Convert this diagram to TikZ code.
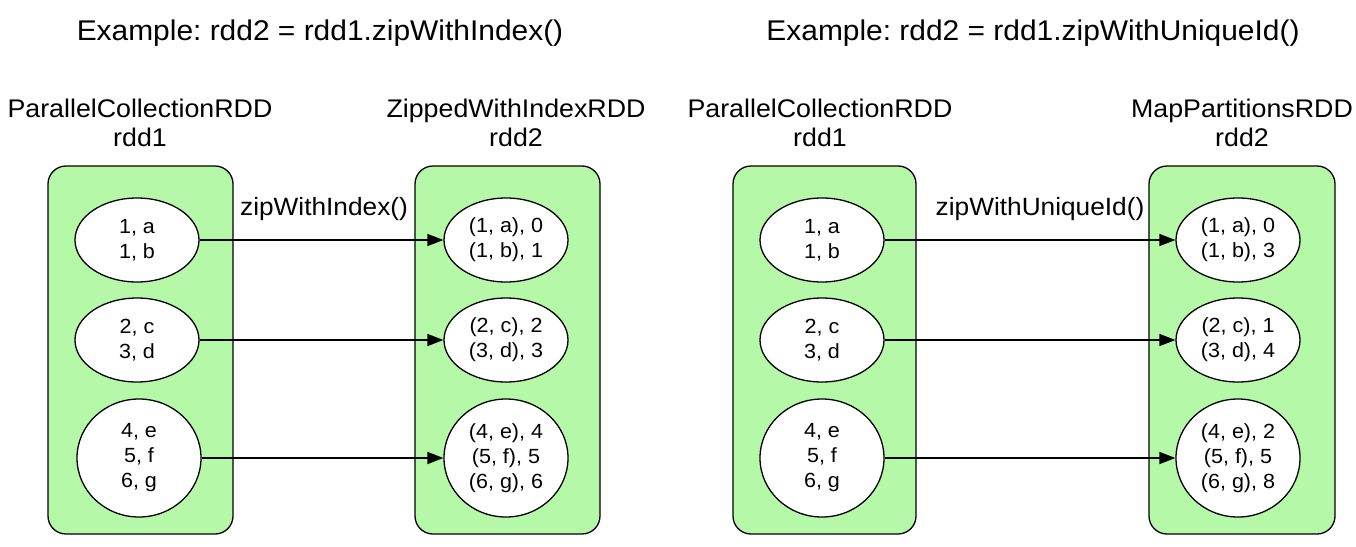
\documentclass[tikz,border=0pt]{standalone}
\usepackage{fontspec}
\setmainfont{Liberation Sans}[FakeStretch=1.05]
\usetikzlibrary{arrows.meta,shapes.geometric}
\definecolor{boxgreen}{RGB}{180,248,168}
\frenchspacing
\tikzset{
  x=1pt, y=-1pt,
  panel/.style={draw=black, line width=1.3pt, fill=boxgreen, rounded corners=18pt},
  part/.style={draw=black, line width=1.3pt, fill=white, ellipse, inner sep=0pt,
    minimum width=124pt, minimum height=84pt, align=center,
    font=\fontsize{20.5pt}{25pt}\selectfont},
  bigpart/.style={part, minimum height=118pt},
  rddlabel/.style={align=center, inner sep=0pt, font=\fontsize{25.5pt}{29.5pt}\selectfont},
  title/.style={anchor=base, inner sep=0pt, font=\fontsize{28.5pt}{34pt}\selectfont},
  oplabel/.style={anchor=base, inner sep=0pt, font=\fontsize{25pt}{30pt}\selectfont},
  flow/.style={line width=1.5pt, -{Triangle[length=16pt,width=12pt]}}
}
\begin{document}
\begin{tikzpicture}
\useasboundingbox[fill=white] (0,0) rectangle (1356,546);

% titles
\node[title] (t1) at (320,40) {Example: rdd2 = rdd1.zipWithIndex()};
\node[title] (t2) at (1033,40) {Example: rdd2 = rdd1.zipWithUniqueId()};

% panel labels
\node[rddlabel] (l1) at (140,123) {ParallelCollectionRDD\\rdd1};
\node[rddlabel] (l2) at (516,123) {ZippedWithIndexRDD\\rdd2};
\node[rddlabel] (l3) at (820,123) {ParallelCollectionRDD\\rdd1};
\node[rddlabel] (l4) at (1242,123) {MapPartitionsRDD\\rdd2};

% panels
\draw[panel] (48,166) rectangle (233,534);
\draw[panel] (415,166) rectangle (600,534);
\draw[panel] (733,166) rectangle (916,534);
\draw[panel] (1149,166) rectangle (1335,534);

% left example partitions
\node[part] (a1) at (137,240) {1, a\\1, b};
\node[part] (a2) at (137,340) {2, c\\3, d};
\node[bigpart] (a3) at (139,458) {4, e\\5, f\\6, g};
\node[part] (b1) at (506,240) {(1, a), 0\\(1, b), 1};
\node[part] (b2) at (506,340) {(2, c), 2\\(3, d), 3};
\node[bigpart] (b3) at (506,458) {(4, e), 4\\(5, f), 5\\(6, g), 6};

% right example partitions
\node[part] (c1) at (822,240) {1, a\\1, b};
\node[part] (c2) at (822,340) {2, c\\3, d};
\node[bigpart] (c3) at (822,458) {4, e\\5, f\\6, g};
\node[part] (d1) at (1238,240) {(1, a), 0\\(1, b), 3};
\node[part] (d2) at (1238,340) {(2, c), 1\\(3, d), 4};
\node[bigpart] (d3) at (1238,458) {(4, e), 2\\(5, f), 5\\(6, g), 8};

% connectors
\draw[flow] (a1.east) -- (b1.west);
\draw[flow] (a2.east) -- (b2.west);
\draw[flow] (a3.east) -- (b3.west);
\draw[flow] (c1.east) -- (d1.west);
\draw[flow] (c2.east) -- (d2.west);
\draw[flow] (c3.east) -- (d3.west);

% operation labels
\node[oplabel] (op1) at (324,215) {zipWithIndex()};
\node[oplabel] (op2) at (1040,215) {zipWithUniqueId()};
\end{tikzpicture}
\end{document}
